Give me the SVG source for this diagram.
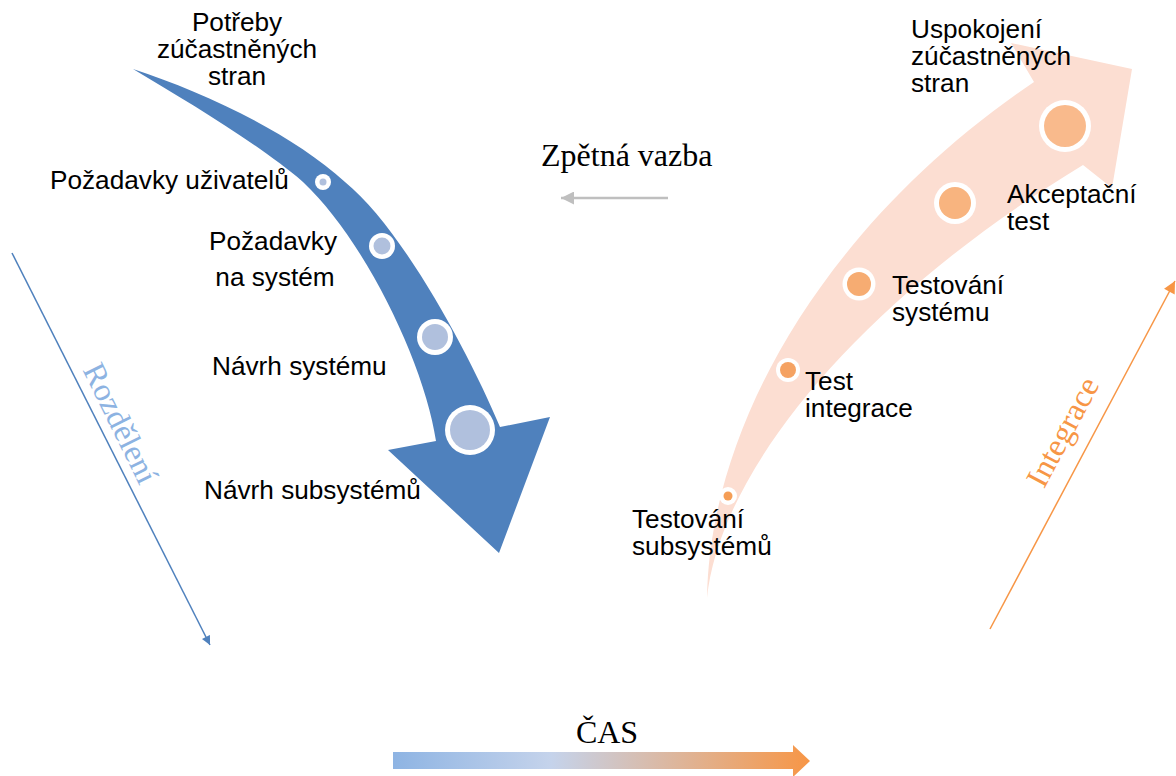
<svg xmlns="http://www.w3.org/2000/svg" width="1176" height="776" viewBox="0 0 1176 776">
<defs>
<style>
.t{font-family:"Liberation Sans",Arial,sans-serif;font-size:26.2px;fill:#000}
.s{font-family:"Liberation Serif","Times New Roman",serif;font-size:32px}
.ring{fill:#fff}
.bi{fill:#B0C0DD}
.line{fill:none;stroke-width:1.5}
</style>
<linearGradient id="gcas" x1="0" y1="0" x2="1" y2="0">
<stop offset="0" stop-color="#8EB4E3"/>
<stop offset="0.38" stop-color="#C5D3EB"/>
<stop offset="1" stop-color="#F79646"/>
</linearGradient>
<marker id="mb" viewBox="0 0 10 10" refX="10" refY="5" markerWidth="10" markerHeight="9" markerUnits="userSpaceOnUse" orient="auto"><path d="M0,0 L10,5 L0,10 Z" fill="#4F81BD"/></marker>
<marker id="mo" viewBox="0 0 10 10" refX="10" refY="5" markerWidth="14" markerHeight="12" markerUnits="userSpaceOnUse" orient="auto"><path d="M0,0 L10,5 L0,10 Z" fill="#F79646"/></marker>
<marker id="mg" viewBox="0 0 10 10" refX="10" refY="5" markerWidth="15" markerHeight="13" markerUnits="userSpaceOnUse" orient="auto"><path d="M0,0 L10,5 L0,10 Z" fill="#BFBFBF"/></marker>
</defs>
<rect width="1176" height="776" fill="#fff"/>

<g id="blue-arrow">
<path d="M133,69 C203,92 290,132 345,182 C402,228 470,355 500,427 L550,417 L499,553 L388,450 L436,441 C425,365 365,240 303,182 C260,145 190,103 133,69 Z" fill="#4F81BD"/>
</g>
<g id="orange-arrow">
<path d="M707,598 C710,420 830,220 1034,82 L1011,43 L1132,69 L1112,188 L1083,165 C860,300 720,470 707,598 Z" fill="#FCDED2"/>
</g>

<g id="connectors">
<line class="line" x1="12" y1="253" x2="210" y2="645" stroke="#4F81BD" marker-end="url(#mb)"/>
<line class="line" x1="990" y1="629" x2="1175" y2="281" stroke="#F79646" marker-end="url(#mo)"/>
<line x1="668" y1="198" x2="561" y2="198" stroke="#BFBFBF" stroke-width="2.5" marker-end="url(#mg)"/>
<path d="M393,752 L793,752 L793,745 L810,761 L793,777 L793,769 L393,769 Z" fill="url(#gcas)"/>
</g>

<g id="n-potreby"><text class="t" text-anchor="middle"><tspan x="237" y="31">Potřeby</tspan><tspan x="237" y="58">zúčastněných</tspan><tspan x="237" y="85">stran</tspan></text></g>
<g id="n-pozuziv"><circle class="ring" cx="323" cy="182" r="8"/><circle class="bi" cx="323" cy="182" r="3.5"/><text class="t" x="50" y="189">Požadavky uživatelů</text></g>
<g id="n-pozsys"><circle class="ring" cx="382" cy="246" r="13"/><circle class="bi" cx="382" cy="246" r="8.5"/><text class="t" text-anchor="middle"><tspan x="273" y="250">Požadavky</tspan><tspan x="275" y="286">na systém</tspan></text></g>
<g id="n-navsys"><circle class="ring" cx="435" cy="337" r="18"/><circle class="bi" cx="435" cy="337" r="13"/><text class="t" x="212" y="375">Návrh systému</text></g>
<g id="n-navsub"><circle class="ring" cx="470" cy="430" r="25"/><circle class="bi" cx="470" cy="430" r="20"/><text class="t" x="204" y="499">Návrh subsystémů</text></g>

<g id="n-testsub"><circle class="ring" cx="728" cy="496" r="9"/><circle cx="728" cy="496" r="4.5" fill="#F59E56"/><text class="t"><tspan x="632" y="528">Testování</tspan><tspan x="632" y="555">subsystémů</tspan></text></g>
<g id="n-testint"><circle class="ring" cx="788" cy="370" r="12"/><circle cx="788" cy="370" r="8" fill="#F5A262"/><text class="t"><tspan x="805" y="390">Test</tspan><tspan x="805" y="417">integrace</tspan></text></g>
<g id="n-testsys"><circle class="ring" cx="859" cy="284" r="16.5"/><circle cx="859" cy="284" r="12" fill="#F6AC72"/><text class="t"><tspan x="892" y="294">Testování</tspan><tspan x="892" y="321">systému</tspan></text></g>
<g id="n-akcept"><circle class="ring" cx="955" cy="203" r="21"/><circle cx="955" cy="203" r="16" fill="#F8B47F"/><text class="t"><tspan x="1007" y="203">Akceptační</tspan><tspan x="1007" y="230">test</tspan></text></g>
<g id="n-uspok"><circle class="ring" cx="1065" cy="126" r="26"/><circle cx="1065" cy="126" r="21" fill="#F9BA8C"/><text class="t"><tspan x="911" y="38">Uspokojení</tspan><tspan x="911" y="65">zúčastněných</tspan><tspan x="911" y="92">stran</tspan></text></g>

<g id="l-zpetna"><text class="s" x="541" y="166" fill="#000">Zpětná vazba</text></g>
<g id="l-cas"><text class="s" x="607" y="743" text-anchor="middle" fill="#000">ČAS</text></g>
<g id="l-rozdeleni"><text class="s" fill="#8DB3E2" text-anchor="middle" transform="translate(111,428) rotate(63.7)">Rozdělení</text></g>
<g id="l-integrace"><text class="s" fill="#F79646" text-anchor="middle" transform="translate(1072,437) rotate(-61.9)">Integrace</text></g>
</svg>
